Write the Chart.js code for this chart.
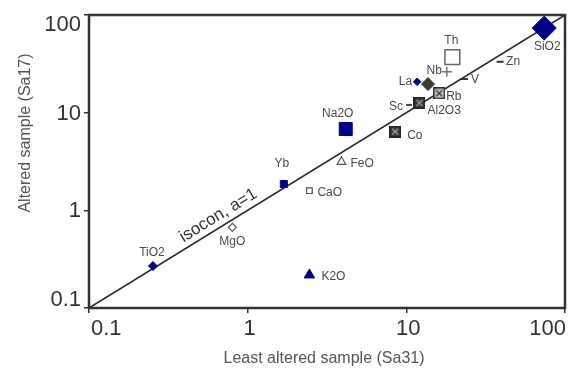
<!DOCTYPE html>
<html>
<head>
<meta charset="utf-8">
<title>Isocon diagram</title>
<script src="https://cdn.jsdelivr.net/npm/chart.js@4.4.1/dist/chart.umd.min.js"></script>
<style>
  html, body { margin: 0; padding: 0; background: #fff; }
  #wrap { width: 578px; height: 369px; }
</style>
</head>
<body>
<div id="wrap"><canvas id="isoconChart" width="578" height="369"></canvas></div>
<script>
// element names and concentrations
const elements = ['SiO2', 'Th', 'Nb', 'V', 'Zn', 'La', '', 'Rb', 'Al2O3', 'Sc', 'Co', 'Na2O', 'FeO', 'Yb', 'CaO', 'MgO', 'TiO2', 'K2O'];
const leastAltered = [74, 19.5, 18.0, 23.1, 39.0, 11.7, 13.7, 16.1, 12.1, 10.4, 8.5, 4.15, 3.9, 1.69, 2.45, 0.80, 0.253, 2.45];   // Sa31
const altered = [73.5, 37, 26.2, 22.1, 33.2, 20.7, 19.6, 15.8, 12.6, 12.0, 6.4, 6.8, 3.14, 1.86, 1.59, 0.67, 0.269, 0.218];      // Sa17
const isoconEnds = [0.1, 100];
const xTicks = [0.1, 1, 10, 100];
const yTicks = [0.1, 1, 10, 100];

const FONT = '"Liberation Sans", Arial, sans-serif';
const BLUE = '#00008a';

// square with an X through it (used for Rb, Al2O3, Co)
function crossedSquare(size, fill, border, cross) {
    const c = document.createElement('canvas');
    c.width = size;
    c.height = size;
    const g = c.getContext('2d');
    g.fillStyle = fill;
    g.fillRect(0, 0, size, size);
    g.strokeStyle = border;
    g.lineWidth = 1.5;
    g.strokeRect(0.75, 0.75, size - 1.5, size - 1.5);
    g.strokeStyle = cross;
    g.lineWidth = 1.2;
    g.beginPath();
    g.moveTo(3, 3); g.lineTo(size - 3, size - 3);
    g.moveTo(size - 3, 3); g.lineTo(3, size - 3);
    g.stroke();
    return c;
}

const darkBox = crossedSquare(12, '#3a3a3a', '#222', '#a0a0a0');
const lightBox = crossedSquare(12, '#c4c4c4', '#333', '#333');

// marker look + label placement, one entry per element
const markerStyles = [
    { style: 'rectRot',  r: 12,  fill: BLUE,    line: BLUE,    w: 1,   dx: 3,   dy: 19,  align: 'center' }, // SiO2
    { style: 'rect',     r: 10.5, fill: '#fff', line: '#666',  w: 1.5, dx: -1,  dy: -16, align: 'center' }, // Th
    { style: 'cross',    r: 5,   fill: '#777',  line: '#777',  w: 1.5, dx: -5,  dy: -1,  align: 'right' },  // Nb
    { style: 'line',     r: 4,   fill: '#333',  line: '#333',  w: 2,   dx: 7,   dy: 1,   align: 'left' },   // V
    { style: 'line',     r: 3.5, fill: '#333',  line: '#333',  w: 2,   dx: 6,   dy: 0,   align: 'left' },   // Zn
    { style: 'rectRot',  r: 3.8, fill: BLUE,    line: BLUE,    w: 1,   dx: -5,  dy: 0,   align: 'right' },  // La
    { style: 'rectRot',  r: 6.5, fill: '#3a3a3a', line: '#3a3a3a', w: 1, dx: 0, dy: 0,   align: 'center' }, // unlabeled
    { style: lightBox,   r: 6,   fill: '#ccc',  line: '#333',  w: 1,   dx: 7,   dy: 3,   align: 'left' },   // Rb
    { style: darkBox,    r: 6,   fill: '#333',  line: '#222',  w: 1,   dx: 8,   dy: 8,   align: 'left' },   // Al2O3
    { style: 'line',     r: 3,   fill: '#444',  line: '#444',  w: 2,   dx: -6,  dy: 2,   align: 'right' },  // Sc
    { style: darkBox,    r: 6,   fill: '#333',  line: '#222',  w: 1,   dx: 12,  dy: 4,   align: 'left' },   // Co
    { style: 'rect',     r: 9.2, fill: BLUE,    line: BLUE,    w: 1,   dx: -8,  dy: -15, align: 'center' }, // Na2O
    { style: 'triangle', r: 5,   fill: '#fff',  line: '#555',  w: 1.2, dx: 9,   dy: 2,   align: 'left' },   // FeO
    { style: 'rect',     r: 5,   fill: BLUE,    line: BLUE,    w: 1,   dx: -2,  dy: -20, align: 'center' }, // Yb
    { style: 'rect',     r: 4,   fill: '#fff',  line: '#555',  w: 1.2, dx: 8,   dy: 2,   align: 'left' },   // CaO
    { style: 'rectRot',  r: 4,   fill: '#fff',  line: '#555',  w: 1.2, dx: 0,   dy: 14,  align: 'center' }, // MgO
    { style: 'rectRot',  r: 4.5, fill: BLUE,    line: BLUE,    w: 1,   dx: -1,  dy: -13, align: 'center' }, // TiO2
    { style: 'triangle', r: 6,   fill: BLUE,    line: BLUE,    w: 1,   dx: 12,  dy: 2,   align: 'left' }    // K2O
];

// labels next to each point
const pointLabels = {
    id: 'pointLabels',
    afterDatasetsDraw(chart) {
        const meta = chart.getDatasetMeta(1);
        const ctx = chart.ctx;
        ctx.save();
        ctx.font = '12px ' + FONT;
        ctx.fillStyle = '#4a4a4a';
        ctx.textBaseline = 'middle';
        meta.data.forEach((pt, i) => {
            if (!elements[i]) return;
            const s = markerStyles[i];
            ctx.textAlign = s.align;
            ctx.fillText(elements[i], pt.x + s.dx, pt.y + s.dy);
        });
        ctx.restore();
    }
};

// frame, tick labels, axis titles and the isocon caption
const axisText = {
    id: 'axisText',
    afterDraw(chart) {
        const ctx = chart.ctx;
        const area = chart.chartArea;
        const xs = chart.scales.x;
        const ys = chart.scales.y;
        ctx.save();

        ctx.strokeStyle = '#333';
        ctx.lineWidth = 2.5;
        ctx.strokeRect(area.left, area.top, area.right - area.left, area.bottom - area.top);

        ctx.fillStyle = '#333';
        ctx.font = '22px ' + FONT;
        ctx.textBaseline = 'middle';
        xTicks.forEach((v, i) => {
            const px = xs.getPixelForValue(v);
            if (i === 0) { ctx.textAlign = 'left'; ctx.fillText(String(v), px + 2, area.bottom + 21); }
            else if (i === xTicks.length - 1) { ctx.textAlign = 'right'; ctx.fillText(String(v), px + 1, area.bottom + 21); }
            else { ctx.textAlign = 'center'; ctx.fillText(String(v), px + 2, area.bottom + 21); }
        });
        ctx.textAlign = 'right';
        yTicks.forEach((v, i) => {
            const py = ys.getPixelForValue(v);
            if (i === 0) { ctx.textBaseline = 'bottom'; ctx.fillText(String(v), area.left - 8, py + 3); }
            else if (i === yTicks.length - 1) { ctx.textBaseline = 'top'; ctx.fillText(String(v), area.left - 8, py - 1); }
            else { ctx.textBaseline = 'middle'; ctx.fillText(String(v), area.left - 8, py + 1); }
        });

        ctx.fillStyle = '#555';
        ctx.font = '16px ' + FONT;
        ctx.textAlign = 'center';
        ctx.textBaseline = 'middle';
        ctx.fillText('Least altered sample (Sa31)', 324, 359);
        ctx.save();
        ctx.translate(26, 133);
        ctx.rotate(-Math.PI / 2);
        ctx.fillText('Altered sample (Sa17)', 0, 0);
        ctx.restore();

        // caption along the isocon line
        const x1 = xs.getPixelForValue(isoconEnds[0]), y1 = ys.getPixelForValue(isoconEnds[0]);
        const x2 = xs.getPixelForValue(isoconEnds[1]), y2 = ys.getPixelForValue(isoconEnds[1]);
        const angle = Math.atan2(y2 - y1, x2 - x1);
        ctx.translate(xs.getPixelForValue(0.71), ys.getPixelForValue(0.71));
        ctx.rotate(angle);
        ctx.fillStyle = '#333';
        ctx.font = '17px ' + FONT;
        ctx.fillText('isocon, a=1', 0, -11);
        ctx.restore();
    }
};

const tickOnly = {
    drawOnChartArea: false,
    drawTicks: true,
    tickLength: 5,
    color: '#333',
    lineWidth: 1.5
};

new Chart(document.getElementById('isoconChart'), {
    type: 'scatter',
    data: {
        datasets: [
            {
                type: 'line',
                data: isoconEnds.map(v => ({ x: v, y: v })),
                borderColor: '#2a2a2a',
                borderWidth: 1.6,
                pointRadius: 0,
                fill: false,
                order: 2
            },
            {
                data: leastAltered.map((v, i) => ({ x: v, y: altered[i] })),
                pointStyle: markerStyles.map(s => s.style),
                pointRadius: markerStyles.map(s => s.r),
                pointBackgroundColor: markerStyles.map(s => s.fill),
                pointBorderColor: markerStyles.map(s => s.line),
                pointBorderWidth: markerStyles.map(s => s.w),
                order: 1
            }
        ]
    },
    options: {
        responsive: false,
        animation: false,
        layout: { padding: { top: 15, right: 6, left: 0, bottom: 0 } },
        plugins: {
            legend: { display: false },
            tooltip: { enabled: false }
        },
        scales: {
            x: {
                type: 'logarithmic',
                min: 0.1,
                max: 100,
                afterBuildTicks: s => { s.ticks = xTicks.map(v => ({ value: v })); },
                ticks: { display: false },
                grid: tickOnly,
                border: { display: false },
                afterFit: s => { s.height = 61; s.paddingLeft = 0; s.paddingRight = 0; }
            },
            y: {
                type: 'logarithmic',
                min: 0.1,
                max: 100,
                afterBuildTicks: s => { s.ticks = yTicks.map(v => ({ value: v })); },
                ticks: { display: false },
                grid: tickOnly,
                border: { display: false },
                afterFit: s => { s.width = 89; s.paddingTop = 0; s.paddingBottom = 0; }
            }
        }
    },
    plugins: [pointLabels, axisText]
});
</script>
</body>
</html>
